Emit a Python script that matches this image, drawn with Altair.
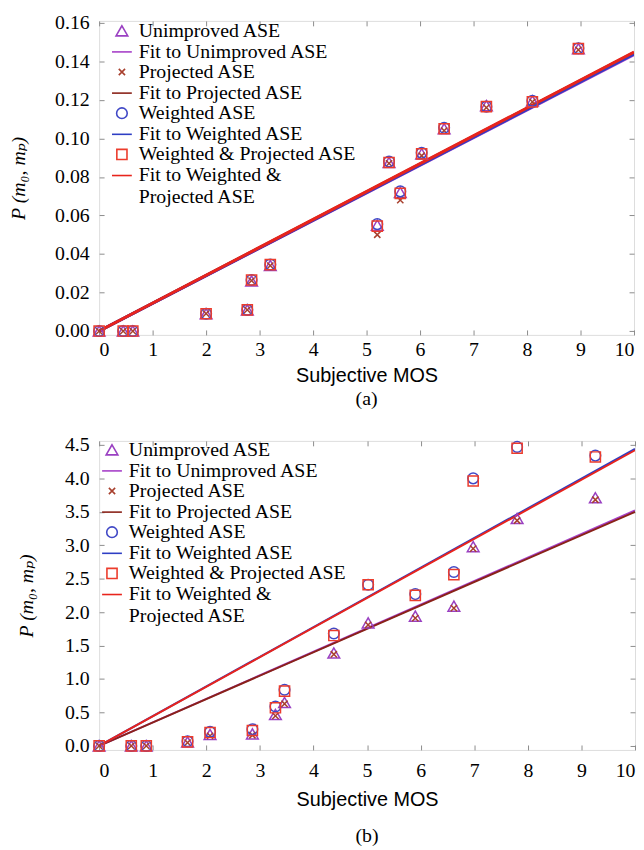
import altair as alt
import pandas as pd

SERIES = ["Unimproved ASE", "Fit to Unimproved ASE", "Projected ASE", "Fit to Projected ASE",
          "Weighted ASE", "Fit to Weighted ASE", "Weighted & Projected ASE",
          "Fit to Weighted & Projected ASE"]
COLORS = ["#9a40c2", "#a640c8", "#a8402e", "#8a2218", "#4048c6", "#2e3ec4", "#ec3c2c", "#e8241c"]
SHAPES = ["triangle-up", "stroke", "M-1,-1L1,1M-1,1L1,-1", "stroke", "circle", "stroke", "square", "stroke"]
SIZES = [140, 400, 40, 400, 115, 400, 105, 400]

# ---- panel (a) ----
a_mos = [0, 0.45, 0.63, 2.0, 2.77, 2.85, 3.2, 5.2, 5.42, 5.63, 6.03, 6.45, 7.24, 8.1, 8.96]
a_unimproved = [0, 0, 0, 0.009, 0.011, 0.026, 0.034, 0.055, 0.0875, 0.072, 0.092, 0.105, 0.117, 0.1195, 0.1466]
a_projected = [0, 0, 0, 0.009, 0.011, 0.0262, 0.034, 0.050, 0.087, 0.068, 0.091, 0.104, 0.116, 0.119, 0.146]
a_weighted = [0, 0, 0, 0.009, 0.011, 0.0265, 0.0345, 0.0555, 0.088, 0.0725, 0.0925, 0.1055, 0.1165, 0.1195, 0.1468]
a_wproj = [0, 0, 0, 0.009, 0.011, 0.0265, 0.0345, 0.0545, 0.0875, 0.0715, 0.092, 0.105, 0.1165, 0.119, 0.1466]
a_fit_x = [0, 10]
a_fit_unimproved = [0, 0.1435]
a_fit_projected = [0, 0.1445]
a_fit_weighted = [0, 0.1438]
a_fit_wproj = [0, 0.1448]
a_yticks = [0, 0.02, 0.04, 0.06, 0.08, 0.10, 0.12, 0.14, 0.16]

# ---- panel (b) ----
b_mos = [0, 0.6, 0.88, 1.65, 2.07, 2.86, 3.29, 3.46, 4.38, 5.02, 5.9, 6.62, 6.98, 7.8, 9.26]
b_unimproved = [0, 0, 0, 0.06, 0.17, 0.18, 0.47, 0.65, 1.39, 1.84, 1.94, 2.09, 2.98, 3.40, 3.71]
b_projected = [0, 0, 0, 0.05, 0.15, 0.16, 0.45, 0.63, 1.37, 1.81, 1.91, 2.06, 2.95, 3.37, 3.68]
b_weighted = [0, 0, 0, 0.07, 0.21, 0.25, 0.59, 0.84, 1.68, 2.41, 2.27, 2.60, 4.00, 4.47, 4.34]
b_wproj = [0, 0, 0, 0.06, 0.20, 0.23, 0.57, 0.82, 1.65, 2.41, 2.25, 2.56, 3.96, 4.45, 4.32]
b_fit_x = [0, 10]
b_fit_unimproved = [0, 3.52]
b_fit_projected = [0, 3.50]
b_fit_weighted = [0, 4.44]
b_fit_wproj = [0, 4.42]
b_yticks = [0, 0.5, 1.0, 1.5, 2.0, 2.5, 3.0, 3.5, 4.0, 4.5]

x_ticks = list(range(0, 11))

SERIF = "Liberation Serif"
TITLE_SERIF = "Liberation Serif, DejaVu Serif"
SANS = "Liberation Sans"
YTITLE = "P (m\u2080, m\u209a)"
TICK_COLOR = "#8c8c8c"


def points_df(x, ys):
    rows = []
    for name, vals in zip([SERIES[0], SERIES[2], SERIES[4], SERIES[6]], ys):
        for xi, yi in zip(x, vals):
            rows.append({"mos": xi, "p": yi, "series": name})
    return pd.DataFrame(rows)


def lines_df(x, ys):
    rows = []
    for name, vals in zip([SERIES[1], SERIES[3], SERIES[5], SERIES[7]], ys):
        for xi, yi in zip(x, vals):
            rows.append({"mos": xi, "p": yi, "series": name})
    return pd.DataFrame(rows)


def panel(pts, lns, ydom, yvals, yfmt, width, height, label, lw, legx, legy,
          lab_pad_x, title_pad_x, lab_pad_y, title_pad_y, cap_offset):
    color = alt.Color("series:N", scale=alt.Scale(domain=SERIES, range=COLORS),
                      sort=SERIES,
                      legend=alt.Legend(
                          title=None, orient="none", legendX=legx, legendY=legy,
                          labelFont=SERIF, labelFontSize=20, labelColor="black",
                          labelOffset=6, rowPadding=0.3, padding=0,
                          symbolStrokeWidth=1.6, symbolFillColor="transparent",
                          labelLimit=400,
                          labelExpr="datum.label == 'Fit to Weighted & Projected ASE' ? ['Fit to Weighted &', 'Projected ASE'] : datum.label",
                      ))
    shape = alt.Shape("series:N", scale=alt.Scale(domain=SERIES, range=SHAPES), sort=SERIES)
    size = alt.Size("series:N", scale=alt.Scale(type="ordinal", domain=SERIES, range=SIZES), sort=SERIES)
    xscale = alt.Scale(domain=[0, 10], nice=False)
    yscale = alt.Scale(domain=ydom, nice=False, zero=False)
    x_main = alt.X("mos:Q", scale=xscale,
                   axis=alt.Axis(title="Subjective MOS", values=x_ticks, format="d",
                                 grid=False, ticks=True, tickSize=5, tickColor=TICK_COLOR,
                                 offset=-5, domain=False,
                                 labelFont=SERIF, labelFontSize=20, labelColor="black",
                                 labelPadding=lab_pad_x, titleFont=SANS, titleFontSize=20,
                                 titleFontWeight="normal", titleColor="black",
                                 titlePadding=title_pad_x))
    y_main = alt.Y("p:Q", scale=yscale,
                   axis=alt.Axis(title=YTITLE, values=yvals, format=yfmt,
                                 grid=False, ticks=True, tickSize=5, tickColor=TICK_COLOR,
                                 offset=-5, domain=False,
                                 labelFont=SERIF, labelFontSize=20, labelColor="black",
                                 labelPadding=lab_pad_y, titleFont=TITLE_SERIF, titleFontSize=20,
                                 titleFontStyle="italic", titleFontWeight="normal",
                                 titleColor="black", titlePadding=title_pad_y))
    x_top = alt.X("mos:Q", scale=xscale,
                  axis=alt.Axis(orient="top", title=None, values=x_ticks, labels=False,
                                grid=False, ticks=True, tickSize=5, tickColor=TICK_COLOR,
                                offset=-5, domain=False))
    y_right = alt.Y("p:Q", scale=yscale,
                    axis=alt.Axis(orient="right", title=None, values=yvals, labels=False,
                                  grid=False, ticks=True, tickSize=5, tickColor=TICK_COLOR,
                                  offset=-5, domain=False))
    line_layer = alt.Chart(lns).mark_line(strokeWidth=lw, clip=True).encode(
        x=x_main, y=y_main, color=color, detail="series:N")
    pt_layer = alt.Chart(pts).mark_point(filled=False, strokeWidth=1.5, opacity=1).encode(
        x=x_top, y=y_right, color=color, shape=shape, size=size)
    return alt.layer(line_layer, pt_layer).resolve_axis(x="independent", y="independent").properties(
        width=width, height=height,
        title=alt.TitleParams(label, orient="bottom", font=SERIF, fontSize=20,
                              fontWeight="normal", color="black", offset=cap_offset),
    )


pa = panel(points_df(a_mos, [a_unimproved, a_projected, a_weighted, a_wproj]),
           lines_df(a_fit_x, [a_fit_unimproved, a_fit_projected, a_fit_weighted, a_fit_wproj]),
           [-0.002, 0.161], a_yticks, ".2f",
           540, 317, "(a)", 3, 12, 0, 5, 6, 10, 26, 4)
pb = panel(points_df(b_mos, [b_unimproved, b_projected, b_weighted, b_wproj]),
           lines_df(b_fit_x, [b_fit_unimproved, b_fit_projected, b_fit_weighted, b_fit_wproj]),
           [-0.06, 4.56], b_yticks, ".1f",
           541, 312, "(b)", 2, 2, -1, 11, 9, 10, 28, 17)

chart = alt.vconcat(pa, pb, spacing=24).resolve_scale(
    color="independent", shape="independent", size="independent"
).properties(padding=0).configure_view(
    stroke="#9a9a9a", strokeWidth=1.2
).configure_axis(labelFont=SERIF).configure(background="white")

chart.save("out.html", embed_options={"renderer": "svg", "actions": False})
